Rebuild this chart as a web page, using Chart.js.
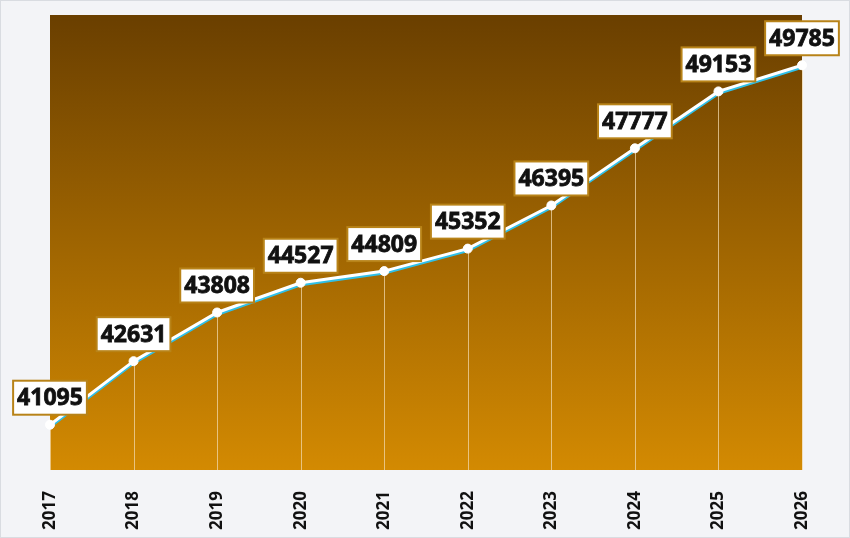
<!DOCTYPE html>
<html>
<head>
<meta charset="utf-8">
<script src="https://cdn.jsdelivr.net/npm/chart.js@4"></script>
<style>
  html,body{margin:0;padding:0;background:#f3f4f7;}
  #wrap{width:848px;height:536px;border:1px solid #d9dce1;background:#f3f4f7;}
</style>
</head>
<body>
<div id="wrap"><canvas id="c" width="848" height="536"></canvas></div>
<script>
const years = ['2017','2018','2019','2020','2021','2022','2023','2024','2025','2026'];
const values = [41095,42631,43808,44527,44809,45352,46395,47777,49153,49785];
const yMin = 40000, yMax = 51000;

// gradient plot background, drop lines, line shadow, value boxes
const bgPlugin = {
  id:'bg',
  beforeDraw(chart){
    const {ctx, chartArea:a} = chart;
    const g = ctx.createLinearGradient(0,a.top,0,a.bottom);
    g.addColorStop(0,'#6a3f00');
    g.addColorStop(1,'#d38a02');
    ctx.save(); ctx.fillStyle=g; ctx.fillRect(a.left,a.top,a.right-a.left,a.bottom-a.top); ctx.restore();
  },
  beforeDatasetsDraw(chart){
    const {ctx, chartArea:a} = chart;
    const meta = chart.getDatasetMeta(0);
    ctx.save();
    ctx.strokeStyle='rgba(240,215,170,0.75)'; ctx.lineWidth=1;
    meta.data.forEach(p=>{ ctx.beginPath(); ctx.moveTo(Math.round(p.x)+0.5,p.y); ctx.lineTo(Math.round(p.x)+0.5,a.bottom); ctx.stroke(); });
    ctx.restore();
  },
  beforeDatasetDraw(chart,args){
    const ctx=chart.ctx; ctx.save();
    if(args.index===0){ ctx.shadowColor='#2fc0e8'; ctx.shadowOffsetX=0; ctx.shadowOffsetY=2; ctx.shadowBlur=0; }
  },
  afterDatasetDraw(chart){ chart.ctx.restore(); },
  afterDatasetsDraw(chart){
    const {ctx} = chart;
    const meta = chart.getDatasetMeta(1);
    ctx.save();
    ctx.font='bold 23px "Open Sans"';
    ctx.textAlign='center'; ctx.textBaseline='middle';
    meta.data.forEach((p,i)=>{
      const t=String(values[i]);
      const w=ctx.measureText(t).width+8, h=34;
      const x=p.x-w/2, y=p.y-10-h;
      ctx.fillStyle='#ffffff'; ctx.fillRect(x,y,w,h);
      ctx.strokeStyle='#b88318'; ctx.lineWidth=2; ctx.strokeRect(x,y,w,h);
      ctx.fillStyle='#111111'; ctx.strokeStyle='#111111'; ctx.lineWidth=0.8;
      ctx.fillText(t,p.x,y+h/2+1); ctx.strokeText(t,p.x,y+h/2+1);
    });
    ctx.restore();
  }
};

new Chart(document.getElementById('c'),{
  type:'line',
  data:{labels:years,datasets:[
    {data:values,order:2,borderColor:'#ffffff',borderWidth:3,pointRadius:0,tension:0,fill:false},
    {data:values,order:1,showLine:false,pointBackgroundColor:'#ffffff',pointBorderColor:'#ffffff',pointRadius:4.5}
  ]},
  options:{
    responsive:false,animation:false,
    layout:{padding:{left:49,right:47,top:14,bottom:0}},
    plugins:{legend:{display:false},tooltip:{enabled:false}},
    scales:{
      x:{offset:false,grid:{display:false},border:{display:false},
        ticks:{minRotation:90,maxRotation:90,padding:13,color:'#111111',font:{family:'"Open Sans"',weight:'bold',size:17}},
        afterFit(s){ s.height=67; }},
      y:{display:false,min:yMin,max:yMax}
    }
  },
  plugins:[bgPlugin]
});
</script>
</body>
</html>
